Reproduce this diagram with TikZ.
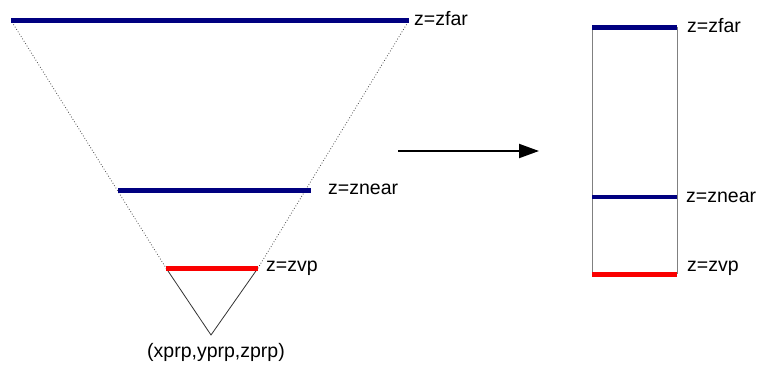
\documentclass[tikz,border=0pt]{standalone}
\usepackage{fontspec}
\setmainfont{Liberation Sans}
\usetikzlibrary{arrows.meta}
\definecolor{navy}{RGB}{0,0,128}
\definecolor{redbar}{RGB}{250,0,0}
\tikzset{
  farbar/.style={line width=5bp, navy},
  vpbar/.style={line width=5bp, redbar},
  side/.style={line width=0.8bp, black!70, dotted},
  solidside/.style={line width=0.8bp, black!80},
  boxside/.style={line width=0.9bp, gray},
  lbl/.style={font=\fontsize{19.5bp}{23bp}\selectfont, inner sep=0pt, anchor=west},
}
\begin{document}
\begin{tikzpicture}[x=1bp,y=-1bp]
\useasboundingbox (0,0) rectangle (757,365);
% left frustum
\coordinate (fl) at (11,20);
\coordinate (fr) at (409,20);
\coordinate (nl) at (118,190);
\coordinate (nr) at (311,190);
\coordinate (vl) at (166,268);
\coordinate (vr) at (258,268);
\coordinate (apex) at (211,335);
\draw[side] (12,22) -- (vl);
\draw[side] (408,22) -- (vr);
\draw[solidside] (vl) -- (apex) -- (vr);
\draw[farbar] (fl) -- (fr);
\draw[farbar] (nl) -- (nr);
\draw[vpbar] (vl) -- (vr);
\node[lbl] (lfar) at (414,19) {z=zfar};
\node[lbl] (lnear) at (328,189) {z=znear};
\node[lbl] (lvp) at (266,268) {z=zvp};
\node[font=\fontsize{19.5bp}{23bp}\selectfont, inner sep=0pt] (prp) at (216,352) {(xprp,yprp,zprp)};
% arrow
\coordinate (a1) at (398,151);
\coordinate (a2) at (539,151);
\draw[line width=2bp, -{Triangle[length=20bp,width=14bp]}] (a1) -- (a2);
% right box
\coordinate (bfl) at (592,27);
\coordinate (bfr) at (677,27);
\coordinate (bnl) at (592,197);
\coordinate (bnr) at (677,197);
\coordinate (bvl) at (592,274);
\coordinate (bvr) at (677,274);
\draw[boxside] (bfl) -- (bvl);
\draw[boxside] (bfr) -- (bvr);
\draw[farbar] (bfl) -- (bfr);
\draw[line width=4bp, navy] (bnl) -- (bnr);
\draw[vpbar] (bvl) -- (bvr);
\node[lbl] (rfar) at (687,26) {z=zfar};
\node[lbl] (rnear) at (686,197) {z=znear};
\node[lbl] (rvp) at (687,268) {z=zvp};
\end{tikzpicture}
\end{document}
